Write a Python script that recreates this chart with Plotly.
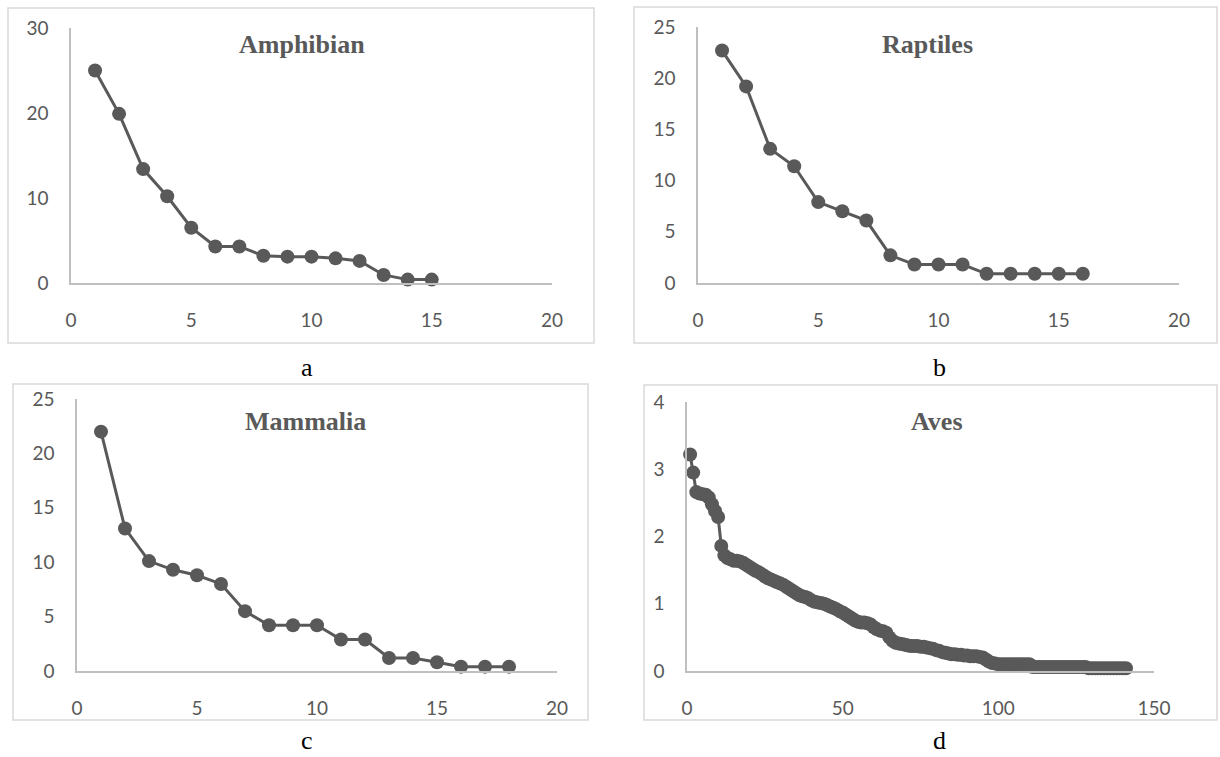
import plotly.graph_objects as go

W, H = 1220, 757

amphibian = [25.0, 19.9, 13.4, 10.2, 6.5, 4.3, 4.3, 3.2, 3.1, 3.1, 2.9, 2.6, 0.95, 0.4, 0.4]
raptiles = [22.7, 19.2, 13.1, 11.4, 7.9, 7.0, 6.1, 2.7, 1.8, 1.8, 1.8, 0.9, 0.9, 0.9, 0.9, 0.9]
mammalia = [22.0, 13.1, 10.1, 9.3, 8.8, 8.0, 5.5, 4.2, 4.2, 4.2, 2.9, 2.9, 1.2, 1.2, 0.8, 0.4, 0.4, 0.4]
aves = [
    3.22, 2.95, 2.66, 2.64, 2.63, 2.62, 2.58, 2.48, 2.38, 2.29,
    1.86, 1.72, 1.68, 1.66, 1.64, 1.64, 1.63, 1.61, 1.58, 1.55,
    1.52, 1.49, 1.47, 1.44, 1.41, 1.38, 1.36, 1.34, 1.32, 1.30,
    1.28, 1.25, 1.22, 1.19, 1.16, 1.13, 1.11, 1.10, 1.08, 1.05,
    1.03, 1.02, 1.01, 1.00, 0.98, 0.96, 0.94, 0.92, 0.89, 0.87,
    0.84, 0.81, 0.78, 0.75, 0.73, 0.72, 0.72, 0.71, 0.69, 0.65,
    0.62, 0.60, 0.59, 0.57, 0.50, 0.45, 0.42, 0.41, 0.40, 0.39,
    0.38, 0.37, 0.37, 0.37, 0.36, 0.36, 0.35, 0.34, 0.33, 0.31,
    0.30, 0.28, 0.27, 0.26, 0.25, 0.25, 0.24, 0.24, 0.23, 0.23,
    0.22, 0.22, 0.22, 0.21, 0.20, 0.17, 0.14, 0.12, 0.11, 0.10,
    0.10, 0.10, 0.10, 0.10, 0.10, 0.10, 0.10, 0.10, 0.10, 0.10,
    0.06, 0.06, 0.06, 0.06, 0.06, 0.06, 0.06, 0.06, 0.06, 0.06,
    0.06, 0.06, 0.06, 0.06, 0.06, 0.06, 0.06, 0.06, 0.04, 0.04,
    0.04, 0.04, 0.04, 0.04, 0.04, 0.04, 0.04, 0.04, 0.04, 0.04,
    0.04,
]

titles = ["Amphibian", "Raptiles", "Mammalia", "Aves"]
letters = ["a", "b", "c", "d"]
series = [amphibian, raptiles, mammalia, aves]
x_ranges = [[0, 20], [0, 20], [0, 20], [0, 150]]
y_ranges = [[0, 30], [0, 25], [0, 25], [0, 4]]
x_dtick = [5, 5, 5, 50]
y_dtick = [10, 5, 5, 1]

# pixel geometry of each panel: plot area (x0,x1,ytop,ybottom), border box, title pos, letter pos
plot_px = [(71, 552, 28, 283), (698, 1179, 27, 283), (77, 557, 399, 671), (687, 1154, 402, 671)]
box_px = [(8, 594, 8, 343), (634, 1217, 7, 343), (13, 588, 384, 720), (644, 1217, 385, 720)]
title_px = [(302, 44), (927, 44), (305, 421), (937, 421)]
letter_px = [(307, 367), (939, 367), (307, 740), (939, 740)]

DARK = "#595959"
AXIS = "#BFBFBF"
BORDER = "#D9D9D9"
TICKFONT = dict(family="Lato, Open Sans, sans-serif", size=19, color=DARK)

fig = go.Figure()
layout = dict(
    width=W, height=H, margin=dict(l=0, r=0, t=0, b=0, autoexpand=False),
    paper_bgcolor="white", plot_bgcolor="white", showlegend=False,
    shapes=[], annotations=[],
)

for i in range(4):
    n = i + 1
    xa = "x" if n == 1 else f"x{n}"
    ya = "y" if n == 1 else f"y{n}"
    vals = series[i]
    fig.add_trace(go.Scatter(
        x=list(range(1, len(vals) + 1)), y=vals, xaxis=xa, yaxis=ya,
        mode="lines+markers", cliponaxis=False,
        line=dict(color=DARK, width=3),
        marker=dict(color=DARK, size=14),
        hoverinfo="x+y",
    ))
    x0, x1, yt, yb = plot_px[i]
    xkey = "xaxis" if n == 1 else f"xaxis{n}"
    ykey = "yaxis" if n == 1 else f"yaxis{n}"
    layout[xkey] = dict(
        domain=[x0 / W, x1 / W], range=x_ranges[i], dtick=x_dtick[i], tick0=0,
        anchor=ya, showgrid=False, zeroline=False, showline=True, automargin=False,
        linecolor=AXIS, linewidth=1.5, ticks="outside", ticklen=19,
        tickcolor="rgba(0,0,0,0)", tickfont=TICKFONT, fixedrange=True,
    )
    layout[ykey] = dict(
        domain=[1 - yb / H, 1 - yt / H], range=y_ranges[i], dtick=y_dtick[i], tick0=0,
        anchor=xa, showgrid=False, zeroline=False, showline=True, automargin=False,
        linecolor=AXIS, linewidth=1.5, ticks="outside", ticklen=17,
        tickcolor="rgba(0,0,0,0)", tickfont=TICKFONT, fixedrange=True,
    )
    bx0, bx1, by0, by1 = box_px[i]
    layout["shapes"].append(dict(
        type="rect", xref="paper", yref="paper",
        x0=bx0 / W, x1=bx1 / W, y0=1 - by1 / H, y1=1 - by0 / H,
        line=dict(color=BORDER, width=1.5), fillcolor="rgba(0,0,0,0)", layer="below",
    ))
    tx, ty = title_px[i]
    layout["annotations"].append(dict(
        text=f"<b>{titles[i]}</b>", xref="paper", yref="paper",
        x=tx / W, y=1 - ty / H, xanchor="center", yanchor="middle", showarrow=False,
        font=dict(family="Liberation Serif, Times New Roman, serif", size=26, color=DARK),
    ))
    lx, ly = letter_px[i]
    layout["annotations"].append(dict(
        text=letters[i], xref="paper", yref="paper",
        x=lx / W, y=1 - ly / H, xanchor="center", yanchor="middle", showarrow=False,
        font=dict(family="Liberation Serif, Times New Roman, serif", size=26, color="black"),
    ))

fig.update_layout(**layout)
fig.write_html(
    "out.html",
    config={"displayModeBar": False},
    post_script="document.body.style.margin='0';document.body.style.overflow='hidden';",
)
